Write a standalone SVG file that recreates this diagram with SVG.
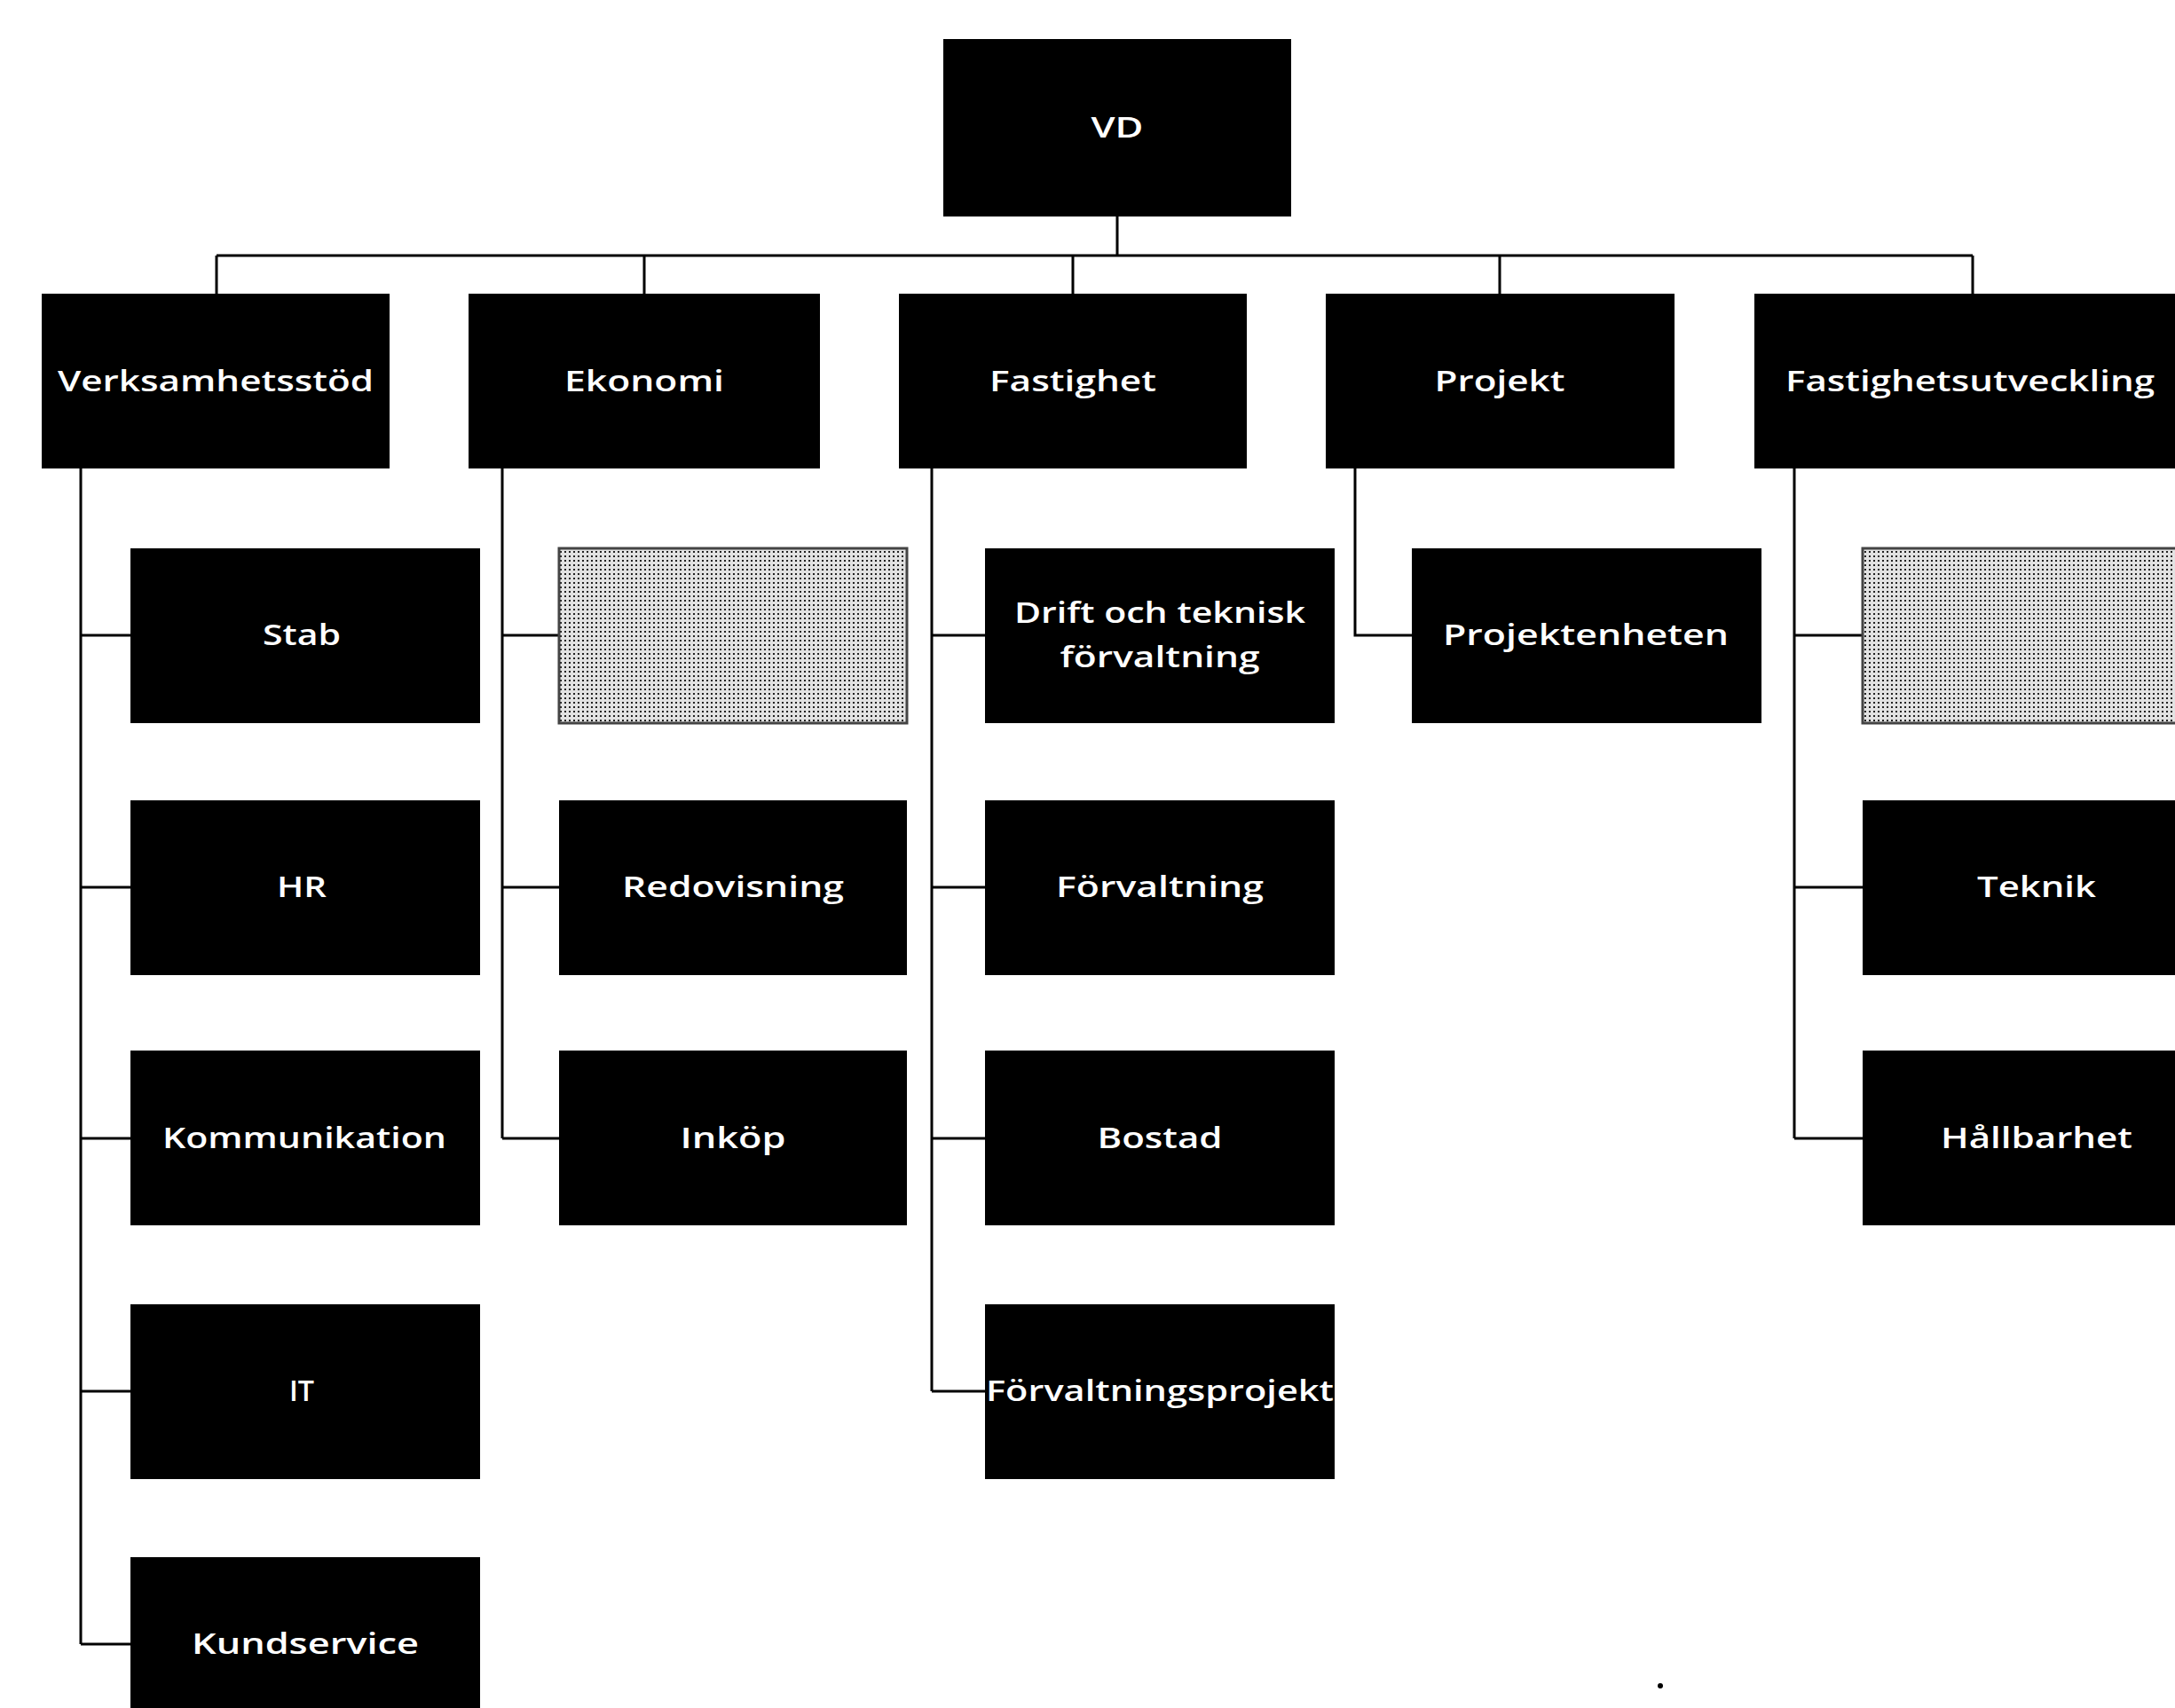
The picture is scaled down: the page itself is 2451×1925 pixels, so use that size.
<svg xmlns="http://www.w3.org/2000/svg" width="2451" height="1925" viewBox="0 0 2451 1925">
<defs>
<pattern id="stipple" width="5" height="5" patternUnits="userSpaceOnUse">
<rect width="5" height="5" fill="#e2e2e2"/>
<rect x="1" y="1" width="2" height="2" fill="#222"/>
</pattern>
</defs>
<style>
.box{fill:#000;}
.grey{fill:url(#stipple);stroke:#444;stroke-width:3;}
.lbl{fill:#fff;font-family:"Open Sans","Liberation Sans",sans-serif;font-weight:600;font-size:32px;text-anchor:middle;}
.con{stroke:#000;stroke-width:3;fill:none;}
</style>
<rect width="2451" height="1925" fill="#fff"/>
<g id="connectors">
<path class="con" d="M1259 244V288M244 288H2223M244 288V331M726 288V331M1209 288V331M1690 288V331M2223 288V331"/>
<path class="con" d="M91 528V1853M91 716H147M91 1000H147M91 1283H147M91 1568H147M91 1853H147"/>
<path class="con" d="M566 528V1283M566 716H630M566 1000H630M566 1283H630"/>
<path class="con" d="M1050 528V1568M1050 716H1110M1050 1000H1110M1050 1283H1110M1050 1568H1110"/>
<path class="con" d="M1527 528V716H1591"/>
<path class="con" d="M2022 528V1283M2022 716H2099M2022 1000H2099M2022 1283H2099"/>
</g>
<g id="vd"><rect class="box" x="1063" y="44" width="392" height="200"/><text class="lbl" x="1259" y="155" textLength="59" lengthAdjust="spacingAndGlyphs">VD</text></g>
<g id="verksamhetsstod"><rect class="box" x="47" y="331" width="392" height="197"/><text class="lbl" x="243" y="441" textLength="356" lengthAdjust="spacingAndGlyphs">Verksamhetsstöd</text></g>
<g id="ekonomi"><rect class="box" x="528" y="331" width="396" height="197"/><text class="lbl" x="726" y="441" textLength="180" lengthAdjust="spacingAndGlyphs">Ekonomi</text></g>
<g id="fastighet"><rect class="box" x="1013" y="331" width="392" height="197"/><text class="lbl" x="1209" y="441" textLength="188" lengthAdjust="spacingAndGlyphs">Fastighet</text></g>
<g id="projekt"><rect class="box" x="1494" y="331" width="393" height="197"/><text class="lbl" x="1690" y="441" textLength="147" lengthAdjust="spacingAndGlyphs">Projekt</text></g>
<g id="fastighetsutveckling"><rect class="box" x="1977" y="331" width="490" height="197"/><text class="lbl" x="2220" y="441" textLength="416" lengthAdjust="spacingAndGlyphs">Fastighetsutveckling</text></g>
<g id="stab"><rect class="box" x="147" y="618" width="394" height="197"/><text class="lbl" x="340" y="727" textLength="88" lengthAdjust="spacingAndGlyphs">Stab</text></g>
<g id="hr"><rect class="box" x="147" y="902" width="394" height="197"/><text class="lbl" x="340" y="1011" textLength="56" lengthAdjust="spacingAndGlyphs">HR</text></g>
<g id="kommunikation"><rect class="box" x="147" y="1184" width="394" height="197"/><text class="lbl" x="343" y="1294" textLength="320" lengthAdjust="spacingAndGlyphs">Kommunikation</text></g>
<g id="it"><rect class="box" x="147" y="1470" width="394" height="197"/><text class="lbl" x="340" y="1579" textLength="28" lengthAdjust="spacingAndGlyphs">IT</text></g>
<g id="kundservice"><rect class="box" x="147" y="1755" width="394" height="197"/><text class="lbl" x="344" y="1864" textLength="256" lengthAdjust="spacingAndGlyphs">Kundservice</text></g>
<g id="ekonomi-grey"><rect class="grey" x="630" y="618" width="392" height="197"/></g>
<g id="redovisning"><rect class="box" x="630" y="902" width="392" height="197"/><text class="lbl" x="826" y="1011" textLength="250" lengthAdjust="spacingAndGlyphs">Redovisning</text></g>
<g id="inkop"><rect class="box" x="630" y="1184" width="392" height="197"/><text class="lbl" x="826" y="1294" textLength="119" lengthAdjust="spacingAndGlyphs">Inköp</text></g>
<g id="drift"><rect class="box" x="1110" y="618" width="394" height="197"/><text class="lbl" x="1307" y="702" textLength="328" lengthAdjust="spacingAndGlyphs">Drift och teknisk</text><text class="lbl" x="1307" y="752" textLength="225" lengthAdjust="spacingAndGlyphs">förvaltning</text></g>
<g id="forvaltning"><rect class="box" x="1110" y="902" width="394" height="197"/><text class="lbl" x="1307" y="1011" textLength="234" lengthAdjust="spacingAndGlyphs">Förvaltning</text></g>
<g id="bostad"><rect class="box" x="1110" y="1184" width="394" height="197"/><text class="lbl" x="1307" y="1294" textLength="141" lengthAdjust="spacingAndGlyphs">Bostad</text></g>
<g id="forvaltningsprojekt"><rect class="box" x="1110" y="1470" width="394" height="197"/><text class="lbl" x="1307" y="1579" textLength="392" lengthAdjust="spacingAndGlyphs">Förvaltningsprojekt</text></g>
<g id="projektenheten"><rect class="box" x="1591" y="618" width="394" height="197"/><text class="lbl" x="1787" y="727" textLength="322" lengthAdjust="spacingAndGlyphs">Projektenheten</text></g>
<g id="fu-grey"><rect class="grey" x="2099" y="618" width="370" height="197"/></g>
<g id="teknik"><rect class="box" x="2099" y="902" width="370" height="197"/><text class="lbl" x="2295" y="1011" textLength="134" lengthAdjust="spacingAndGlyphs">Teknik</text></g>
<g id="hallbarhet"><rect class="box" x="2099" y="1184" width="370" height="197"/><text class="lbl" x="2295" y="1294" textLength="216" lengthAdjust="spacingAndGlyphs">Hållbarhet</text></g>
<circle cx="1871" cy="1900" r="3" fill="#000"/>
</svg>
